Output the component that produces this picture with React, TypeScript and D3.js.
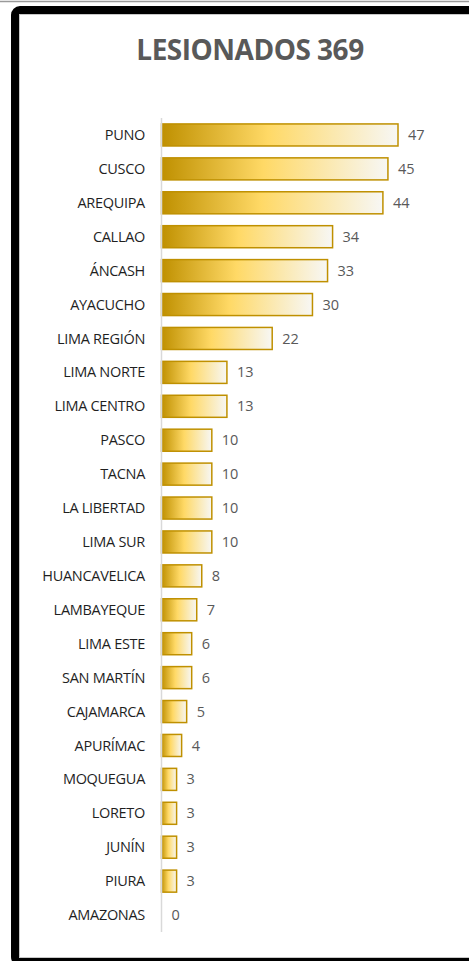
import React, { useEffect, useRef } from "react";
import * as d3 from "d3";

const regions = [
  "PUNO", "CUSCO", "AREQUIPA", "CALLAO", "ÁNCASH", "AYACUCHO", "LIMA REGIÓN",
  "LIMA NORTE", "LIMA CENTRO", "PASCO", "TACNA", "LA LIBERTAD", "LIMA SUR",
  "HUANCAVELICA", "LAMBAYEQUE", "LIMA ESTE", "SAN MARTÍN", "CAJAMARCA",
  "APURÍMAC", "MOQUEGUA", "LORETO", "JUNÍN", "PIURA", "AMAZONAS",
];
const injured = [47, 45, 44, 34, 33, 30, 22, 13, 13, 10, 10, 10, 10, 8, 7, 6, 6, 5, 4, 3, 3, 3, 3, 0];
const title = "LESIONADOS 369";

const W = 469;
const H = 961;

export default function App() {
  const ref = useRef<SVGSVGElement>(null);

  useEffect(() => {
    const svg = d3.select(ref.current);
    svg.selectAll("*").remove();

    // outer frame (screenshot of an excel chart with black border)
    svg.append("line")
      .attr("x1", 0).attr("x2", W).attr("y1", 1.5).attr("y2", 1.5)
      .attr("stroke", "#9a9a9a").attr("stroke-width", 1.5);
    svg.append("rect")
      .attr("x", 15).attr("y", 10)
      .attr("width", W + 20).attr("height", 952)
      .attr("rx", 5)
      .attr("fill", "#fff")
      .attr("stroke", "#000").attr("stroke-width", 8);
    svg.append("path")
      .attr("d", `M19.5,957.5 V14.5 H${W}`)
      .attr("fill", "none")
      .attr("stroke", "#c8c8c8").attr("stroke-width", 1);
    svg.append("line")
      .attr("x1", 19).attr("x2", W).attr("y1", 957.5).attr("y2", 957.5)
      .attr("stroke", "#c8c8c8").attr("stroke-width", 1);

    const grad = svg.append("defs").append("linearGradient")
      .attr("id", "gold").attr("x1", "0%").attr("x2", "100%").attr("y1", "0%").attr("y2", "0%");
    grad.append("stop").attr("offset", "0%").attr("stop-color", "#bf9000");
    grad.append("stop").attr("offset", "45%").attr("stop-color", "#ffd966");
    grad.append("stop").attr("offset", "100%").attr("stop-color", "#f7f7f5");

    svg.append("text")
      .attr("x", 250).attr("y", 60)
      .attr("text-anchor", "middle")
      .style("font-family", "'Open Sans', sans-serif")
      .style("font-size", "28px")
      .style("font-weight", "bold")
      .style("letter-spacing", "-0.5px")
      .attr("fill", "#595959")
      .text(title);

    const x0 = 161.5;
    const x = d3.scaleLinear().domain([0, 47]).range([x0, 398]);
    const y = d3.scaleBand<string>()
      .domain(regions)
      .range([118, 932])
      .paddingInner(0.35)
      .paddingOuter(0.175);

    const rows = regions.map((r, i) => ({ r, v: injured[i] }));

    svg.selectAll("rect.bar")
      .data(rows.filter((d) => d.v > 0))
      .enter()
      .append("rect")
      .attr("class", "bar")
      .attr("x", x0)
      .attr("y", (d) => y(d.r)!)
      .attr("width", (d) => x(d.v) - x0)
      .attr("height", y.bandwidth())
      .attr("fill", "url(#gold)")
      .attr("stroke", "#bf9000")
      .attr("stroke-width", 1.5);

    // category axis line
    svg.append("line")
      .attr("x1", x0).attr("x2", x0).attr("y1", 118).attr("y2", 932)
      .attr("stroke", "#d9d9d9").attr("stroke-width", 1.5);

    svg.selectAll("text.cat")
      .data(rows)
      .enter()
      .append("text")
      .attr("class", "cat")
      .attr("x", 145)
      .attr("y", (d) => y(d.r)! + y.bandwidth() / 2)
      .attr("dy", "0.35em")
      .attr("text-anchor", "end")
      .style("font-family", "'Open Sans', sans-serif")
      .style("font-size", "14.5px")
      .style("letter-spacing", "-0.3px")
      .attr("fill", "#1f1f1f")
      .text((d) => d.r);

    svg.selectAll("text.val")
      .data(rows)
      .enter()
      .append("text")
      .attr("class", "val")
      .attr("x", (d) => x(d.v) + 10)
      .attr("y", (d) => y(d.r)! + y.bandwidth() / 2)
      .attr("dy", "0.35em")
      .style("font-family", "'Open Sans', sans-serif")
      .style("font-size", "14.5px")
      .attr("fill", "#595959")
      .text((d) => d.v);
  }, []);

  return (
    <svg
      ref={ref}
      width={W}
      height={H}
      style={{ position: "absolute", left: 0, top: 0, background: "#fff" }}
    />
  );
}
